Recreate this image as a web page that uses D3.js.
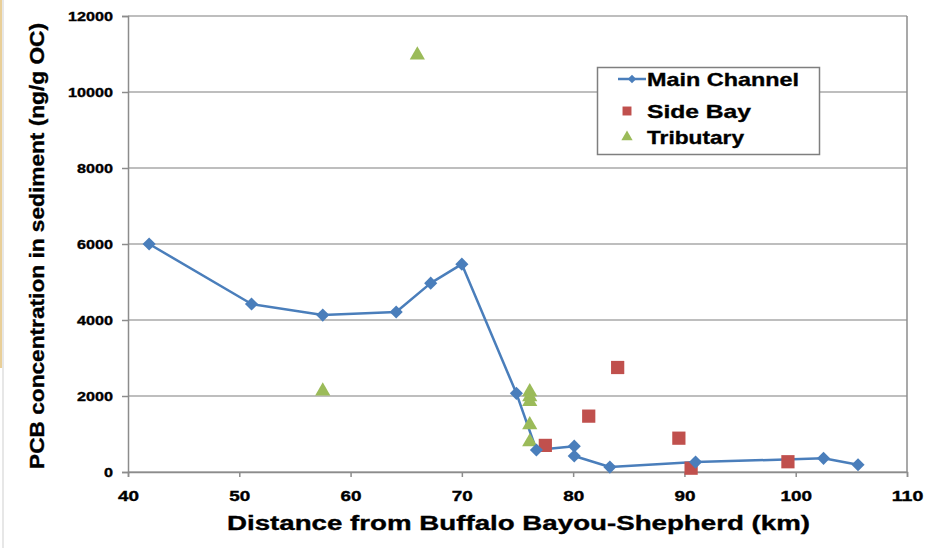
<!DOCTYPE html>
<html>
<head>
<meta charset="utf-8">
<script src="https://cdn.jsdelivr.net/npm/d3@7"></script>
<style>
  html, body { margin: 0; padding: 0; background: #fff; }
  svg { display: block; }
  text { font-family: "Liberation Sans", Arial, sans-serif; font-weight: bold; fill: #000; stroke: #000; stroke-width: 0.35px; }
</style>
</head>
<body>
<svg id="chart" width="941" height="548"></svg>
<script>
// PCB concentration along the channel (km downstream, ng/g OC)
const mainKm   = [41.9, 51.1, 57.5, 64.1, 67.2, 70.0, 74.9, 76.7, 80.1, 80.1, 83.3, 91.0, 102.5, 105.6];
const mainPcb  = [6000, 4420, 4130, 4210, 4970, 5470, 2070, 580, 680, 420, 130, 260, 360, 190];

const sideKm   = [77.5, 81.4, 84.0, 89.5, 90.6, 99.3];
const sidePcb  = [700, 1470, 2750, 890, 100, 270];

const tribKm   = [57.5, 66.0, 76.1, 76.1, 76.1, 76.1, 76.1];
const tribPcb  = [2130, 10970, 2110, 1980, 1850, 1240, 790];

const xTicks = [40, 50, 60, 70, 80, 90, 100, 110];
const yTicks = [0, 2000, 4000, 6000, 8000, 10000, 12000];

const seriesNames = ["Main Channel", "Side Bay", "Tributary"];
const colors = { main: "#4a7ebb", side: "#c0504d", trib: "#9bbb59" };

const svg = d3.select("#chart");

// page-edge trim on the left
svg.append("rect").attr("x", 0).attr("y", 0).attr("width", 2).attr("height", 368).attr("fill", "#e9cf98");
svg.append("line").attr("x1", 3).attr("x2", 3).attr("y1", 0).attr("y2", 548)
  .attr("stroke", "#cfcfcf").attr("stroke-width", 1);

const plotL = 128, plotR = 907, plotT = 16, plotB = 472;
const x = d3.scaleLinear().domain([40, 110]).range([plotL, plotR]);
const y = d3.scaleLinear().domain([0, 12000]).range([plotB, plotT]);

// horizontal gridlines
svg.append("g").selectAll("line").data(yTicks).join("line")
  .attr("x1", plotL).attr("x2", plotR)
  .attr("y1", d => y(d)).attr("y2", d => y(d))
  .attr("stroke", "#a8a8a8").attr("stroke-width", 1.5);

// plot frame: right edge
svg.append("line").attr("x1", plotR).attr("x2", plotR).attr("y1", plotT).attr("y2", plotB)
  .attr("stroke", "#8c8c8c").attr("stroke-width", 1.5);

// y axis
const yAxis = d3.axisLeft(y).tickValues(yTicks).tickSize(6).tickFormat(d3.format("d"));
const gy = svg.append("g").attr("transform", `translate(${plotL},0)`).call(yAxis);
gy.select(".domain").attr("stroke", "#8c8c8c").attr("stroke-width", 1.5);
gy.selectAll(".tick line").attr("stroke", "#8c8c8c").attr("stroke-width", 1.5);
gy.selectAll(".tick text")
  .attr("x", -15).attr("dy", "0.35em")
  .style("font-size", "13px").style("font-family", "'Liberation Sans', Arial, sans-serif")
  .style("font-weight", "bold").attr("fill", "#000")
  .attr("textLength", d => String(d).length * 9)
  .attr("lengthAdjust", "spacingAndGlyphs");

// x axis
const xAxis = d3.axisBottom(x).tickValues(xTicks).tickSize(5).tickFormat(d3.format("d"));
const gx = svg.append("g").attr("transform", `translate(0,${plotB})`).call(xAxis);
gx.select(".domain").attr("stroke", "#8c8c8c").attr("stroke-width", 1.5);
gx.selectAll(".tick line").attr("stroke", "#8c8c8c").attr("stroke-width", 1.5);
gx.selectAll(".tick text")
  .attr("y", 19).attr("dy", "0.71em")
  .style("font-size", "14px").style("font-family", "'Liberation Sans', Arial, sans-serif")
  .style("font-weight", "bold").attr("fill", "#000")
  .attr("textLength", d => String(d).length * 10.5)
  .attr("lengthAdjust", "spacingAndGlyphs");

// axis titles
svg.append("text")
  .attr("x", (plotL + plotR) / 2 + 1).attr("y", 530)
  .attr("text-anchor", "middle")
  .style("font-size", "20px")
  .attr("textLength", 583).attr("lengthAdjust", "spacingAndGlyphs")
  .text("Distance from Buffalo Bayou-Shepherd (km)");

svg.append("text")
  .attr("transform", `translate(44,${(plotT + plotB) / 2 + 2}) rotate(-90)`)
  .attr("text-anchor", "middle")
  .style("font-size", "20px")
  .attr("textLength", 446).attr("lengthAdjust", "spacingAndGlyphs")
  .text("PCB concentration in sediment (ng/g OC)");

// marker shapes
const diamond = d3.symbol().type(d3.symbolDiamond2).size(110);
const square = d3.symbol().type(d3.symbolSquare).size(175);
const triangle = d3.symbol().type(d3.symbolTriangle).size(100);

// main channel line
const mainData = mainKm.map((k, i) => [k, mainPcb[i]]);
svg.append("path").datum(mainData)
  .attr("fill", "none").attr("stroke", colors.main).attr("stroke-width", 2.5)
  .attr("stroke-linejoin", "round")
  .attr("d", d3.line().x(d => x(d[0])).y(d => y(d[1])));

// side bay squares
svg.append("g").selectAll("path").data(sideKm.map((k, i) => [k, sidePcb[i]])).join("path")
  .attr("d", square).attr("fill", colors.side)
  .attr("transform", d => `translate(${x(d[0])},${y(d[1])})`);

// tributary triangles
svg.append("g").selectAll("path").data(tribKm.map((k, i) => [k, tribPcb[i]])).join("path")
  .attr("d", triangle).attr("fill", colors.trib)
  .attr("transform", d => `translate(${x(d[0])},${y(d[1])})`);

// main channel diamonds on top
svg.append("g").selectAll("path").data(mainData).join("path")
  .attr("d", diamond).attr("fill", colors.main)
  .attr("transform", d => `translate(${x(d[0])},${y(d[1])})`);

// legend
const lg = svg.append("g");
lg.append("rect").attr("x", 597.5).attr("y", 67.5).attr("width", 222).attr("height", 87)
  .attr("fill", "#fff").attr("stroke", "#7f7f7f").attr("stroke-width", 1.5);
const rows = [79, 111, 137];
lg.append("line").attr("x1", 618).attr("x2", 646).attr("y1", rows[0]).attr("y2", rows[0])
  .attr("stroke", colors.main).attr("stroke-width", 2.5);
lg.append("path").attr("d", d3.symbol().type(d3.symbolDiamond2).size(45)).attr("fill", colors.main)
  .attr("transform", `translate(632,${rows[0]})`);
lg.append("path").attr("d", d3.symbol().type(d3.symbolSquare).size(80)).attr("fill", colors.side)
  .attr("transform", `translate(627,${rows[1]})`);
lg.append("path").attr("d", d3.symbol().type(d3.symbolTriangle).size(55)).attr("fill", colors.trib)
  .attr("transform", `translate(627,${rows[2]})`);
const widths = [152, 104, 97];
lg.selectAll("text.lab").data(seriesNames).join("text")
  .attr("class", "lab")
  .attr("x", 647).attr("y", (d, i) => rows[i] + 7)
  .style("font-size", "19px")
  .attr("textLength", (d, i) => widths[i]).attr("lengthAdjust", "spacingAndGlyphs")
  .text(d => d);
</script>
</body>
</html>
